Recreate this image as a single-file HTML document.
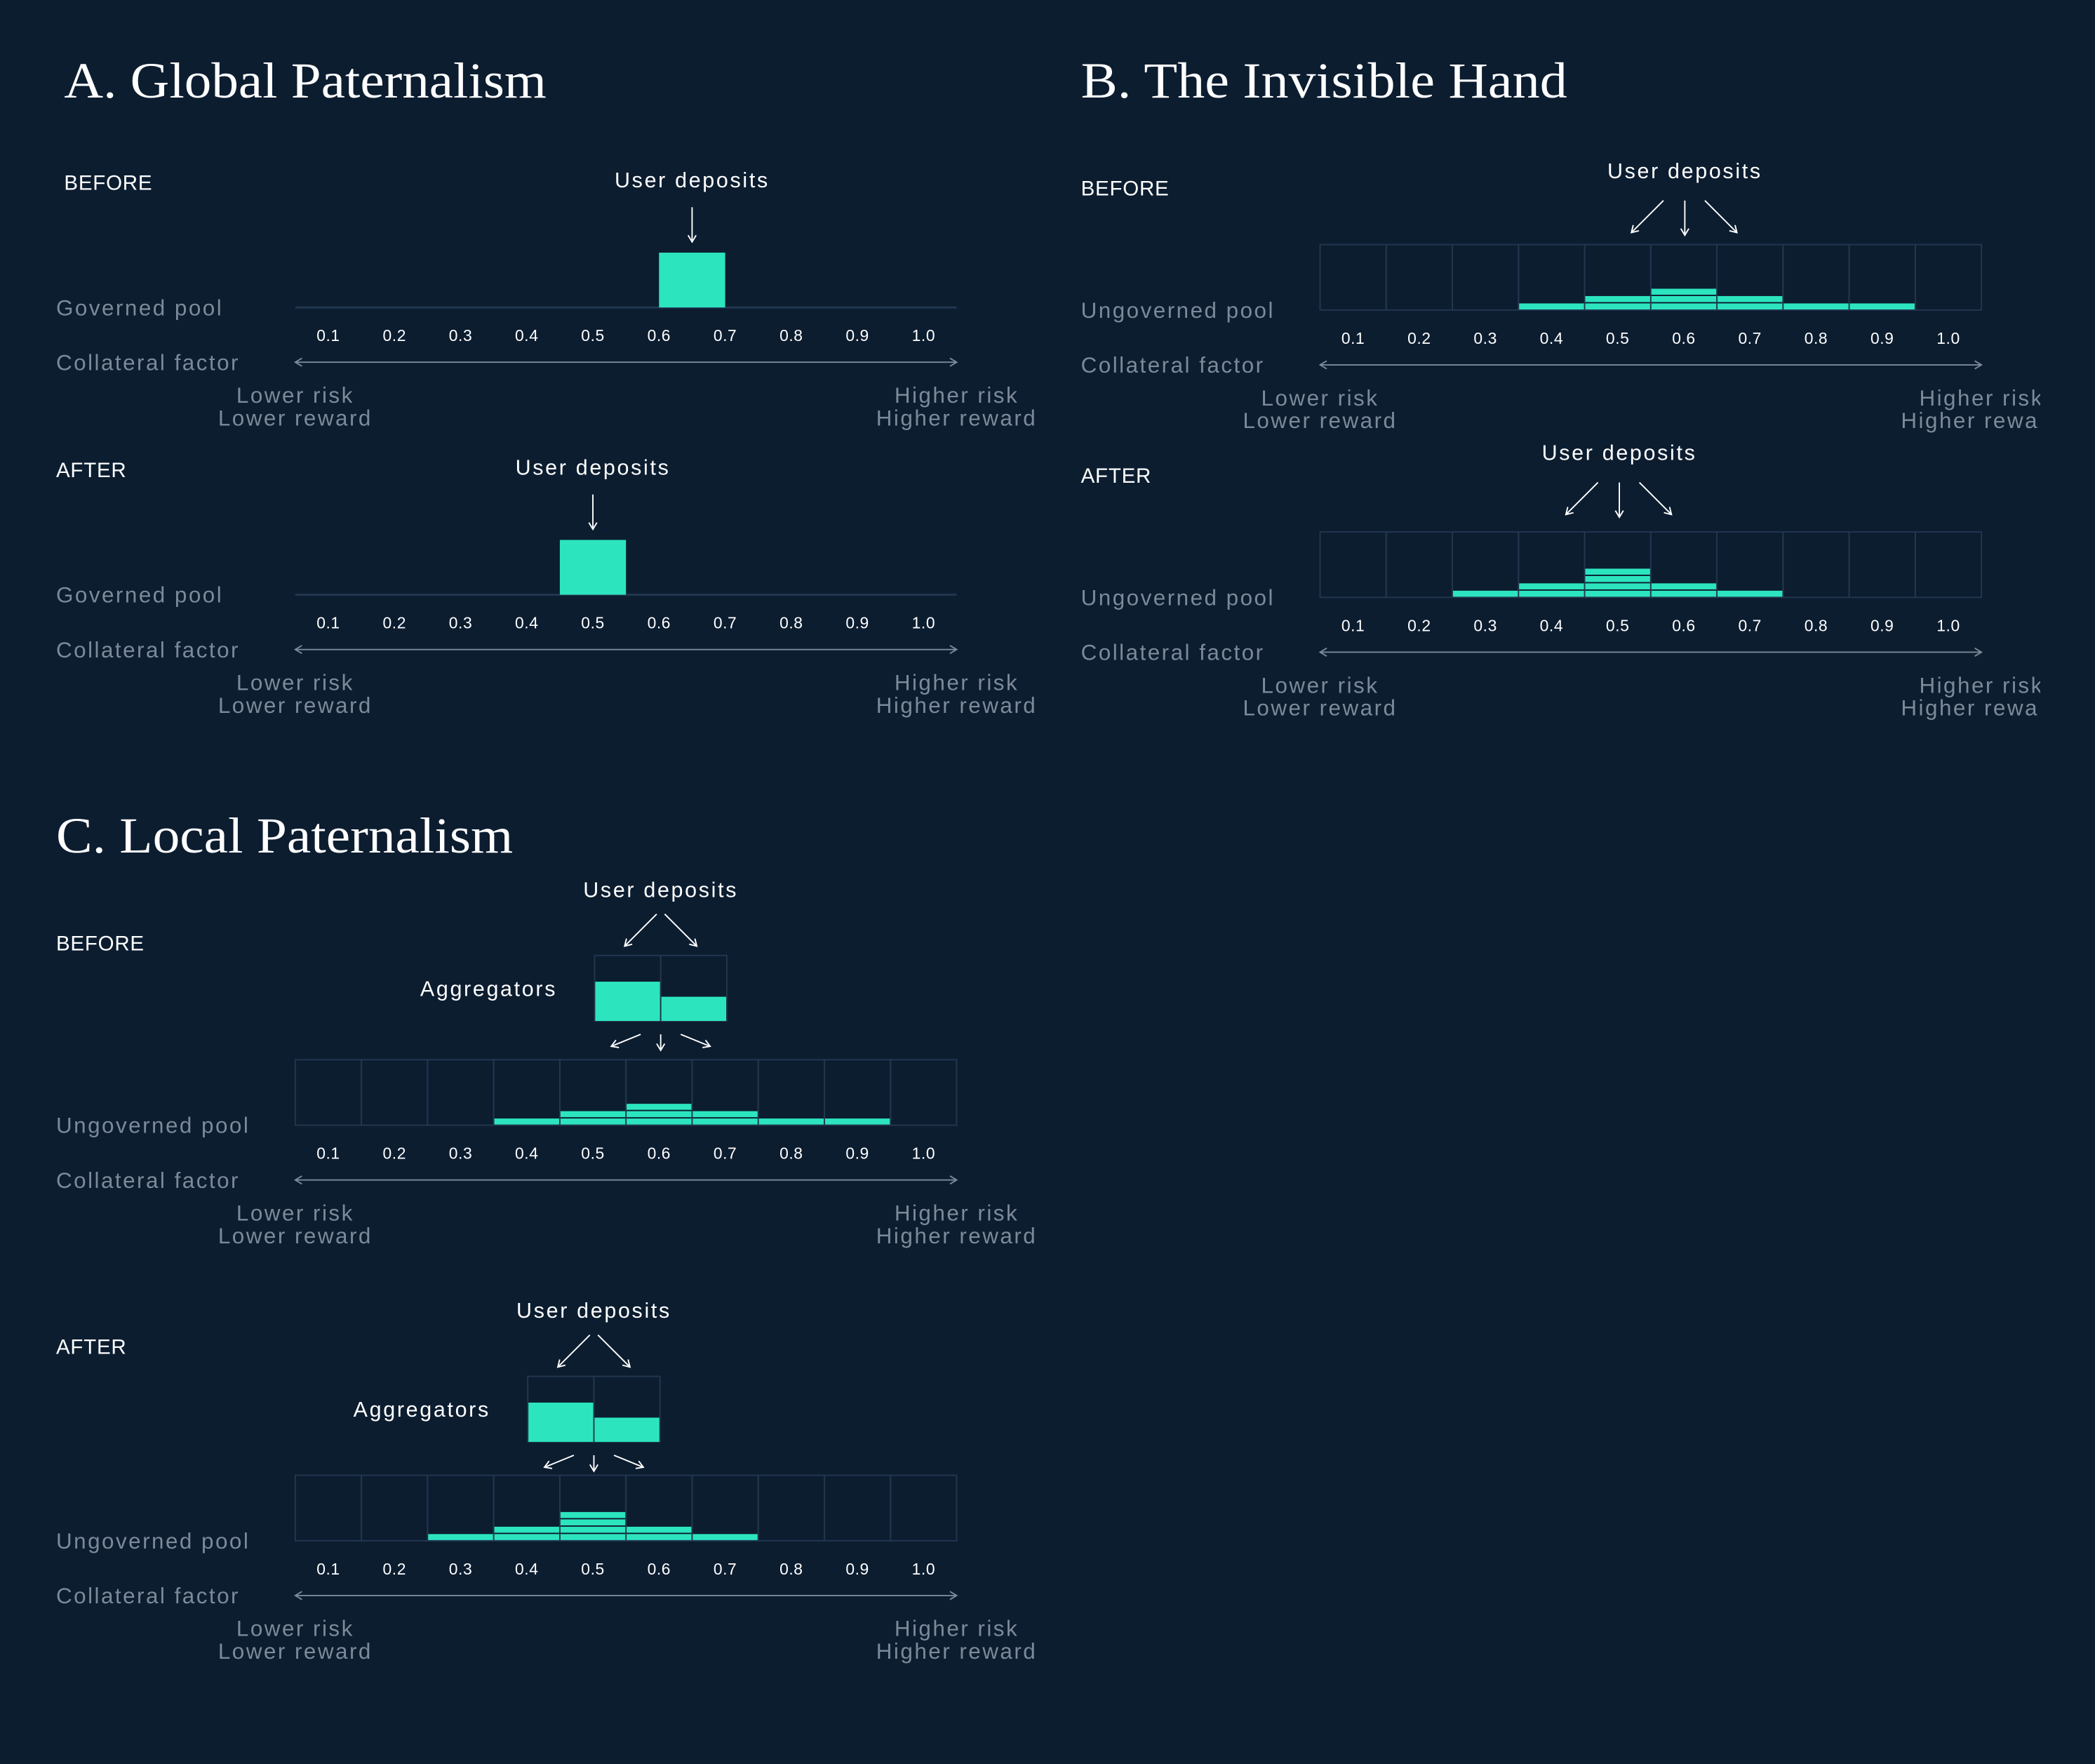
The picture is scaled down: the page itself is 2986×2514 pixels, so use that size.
<!DOCTYPE html>
<html><head><meta charset="utf-8"><style>
html,body{margin:0;padding:0;background:#0c1d30;}
svg{display:block;}
.t{font-family:"Liberation Serif",serif;fill:#fff;font-size:38px;}
.w{font-family:"Liberation Sans",sans-serif;fill:#fff;font-size:16px;letter-spacing:1.4px;}
.s{font-family:"Liberation Sans",sans-serif;fill:#fff;font-size:15.5px;letter-spacing:0.4px;}
.g{font-family:"Liberation Sans",sans-serif;fill:#7c8a99;font-size:16.5px;letter-spacing:1.3px;}
.k{font-family:"Liberation Sans",sans-serif;fill:#fff;font-size:12px;letter-spacing:0.3px;}
</style></head><body>
<svg id="c" width="2986" height="2514" viewBox="0 0 1568 1320">
<defs><clipPath id="clipB"><rect x="0" y="0" width="1527" height="1320"/></clipPath>
<marker id="ah" markerWidth="8" markerHeight="8" refX="6" refY="4" orient="auto" markerUnits="userSpaceOnUse"><path d="M1,1 L6,4 L1,7" fill="none" stroke="#fff" stroke-width="1"/></marker>
<marker id="ahg" markerWidth="8" markerHeight="8" refX="6" refY="4" orient="auto-start-reverse" markerUnits="userSpaceOnUse"><path d="M1,1 L6,4 L1,7" fill="none" stroke="#7c8a99" stroke-width="1"/></marker>
</defs>
<text class="t" x="48" y="73" textLength="361" lengthAdjust="spacingAndGlyphs">A. Global Paternalism</text>
<text class="t" x="809" y="73" textLength="364" lengthAdjust="spacingAndGlyphs">B. The Invisible Hand</text>
<text class="t" x="42" y="638" textLength="342" lengthAdjust="spacingAndGlyphs">C. Local Paternalism</text>
<g id="layer"></g>
</svg>
<script>
// Tick labels
const ticks = ['0.1','0.2','0.3','0.4','0.5','0.6','0.7','0.8','0.9','1.0'];
// Panel A: governed-pool bar position (bucket index, may be fractional)
const aBeforeBucket = [5.5];
const aAfterBucket = [4];
// Panel B: deposit block counts per collateral bucket
const bBefore = [0,0,0,1,2,3,2,1,1,0];
const bAfter  = [0,0,1,2,4,2,1,0,0,0];
// Panel C: ungoverned pool counts per bucket
const cBefore = [0,0,0,1,2,3,2,1,1,0];
const cAfter  = [0,0,1,2,4,2,1,0,0,0];
// Panel C: aggregator fill fractions
const cAggBefore = [0.6,0.37];
const cAggAfter  = [0.6,0.37];

const NS='http://www.w3.org/2000/svg';
const layer=document.getElementById('layer');
function el(tag,attrs,parent){const e=document.createElementNS(NS,tag);for(const k in attrs)e.setAttribute(k,attrs[k]);(parent||layer).appendChild(e);return e;}
function txt(cls,x,y,s,anchor,parent){const e=el('text',{class:cls,x:x,y:y,'text-anchor':anchor||'start','dominant-baseline':'middle'},parent);e.textContent=s;return e;}
const CW=49.5, CH=49, UNIT=5.5;
function xs(i,x0){return x0+i*CW;}

function axisBlock(g,x0,base,labelY,poolName){
  ticks.forEach((t,i)=>{const e=txt('k',xs(i,x0)+CW/2,base+22,t,'middle',g);
  
  });
  const p=txt('g',labelY,base+1.5,poolName,'start',g);
  
  
  const cf=txt('g',labelY,base+42.5,'Collateral factor','start',g);
  
  
  const ar=el('line',{x1:x0,y1:base+41,x2:x0+10*CW,y2:base+41,stroke:'#7c8a99','stroke-width':1,'marker-end':'url(#ahg)','marker-start':'url(#ahg)'},g);
  
  
  const l1=txt('g',x0,base+67,'Lower risk','middle',g);
  const l2=txt('g',x0,base+84,'Lower reward','middle',g);
  const h1=txt('g',x0+10*CW,base+67,'Higher risk','middle',g);
  const h2=txt('g',x0+10*CW,base+84,'Higher reward','middle',g);
}
function arrow(g,x1,y1,x2,y2){const a=el('line',{x1:x1,y1:y1,x2:x2,y2:y2,stroke:'#fff','stroke-width':1,'marker-end':'url(#ah)'},g);
  
  }

function panelA(bucket,x0,base,stageY,stage,labelX){
  const g=el('g',{});
  
  
  const s=txt('s',labelX,stageY,stage,'start',g);
  const bl=el('line',{x1:x0,y1:base,x2:x0+10*CW,y2:base,stroke:'#22374f','stroke-width':1.5},g);
  
  bucket.forEach(b=>{const r=el('rect',{x:xs(b,x0),y:base-41,width:CW,height:41,fill:'#2ce5bf'},g);
    
    
    const cx=xs(b,x0)+CW/2;
    const u=txt('w',cx,base-94,'User deposits','middle',g);
    arrow(g,cx,base-75,cx,base-49);});
  axisBlock(g,x0,base,42,'Governed pool');
}
function grid(g,counts,x0,top){
  const base=top+CH;
  for(let i=0;i<10;i++){const c=el('rect',{x:xs(i,x0),y:top,width:CW,height:CH,fill:'none',stroke:'#22374f','stroke-width':1},g);
    
    }
  counts.forEach((n,i)=>{for(let k=0;k<n;k++){const r=el('rect',{x:xs(i,x0)+0.5,y:base-(k+1)*UNIT+0.5,width:CW-1,height:UNIT-1,fill:'#2ce5bf'},g);
    
    }});
  return base;
}
function panelB(counts,top,stageY,stage,udX,udY){
  const g=el('g',{'clip-path':'url(#clipB)'});
  
  
  const x0=988;
  const s=txt('s',809,stageY+1,stage,'start',g);
  const u=txt('w',udX,udY+1,'User deposits','middle',g);
  arrow(g,udX-16,udY+22,udX-40,udY+46);arrow(g,udX,udY+22,udX,udY+48);arrow(g,udX+15,udY+22,udX+39,udY+46);
  const base=grid(g,counts,x0,top);
  axisBlock(g,x0,base,809,'Ungoverned pool');
}
function panelC(counts,agg,top,stageY,stage,aggX,aggTop){
  const g=el('g',{});
  
  
  const x0=221;const cx=aggX+CW;
  const s=txt('s',42,stageY+1,stage,'start',g);
  const u=txt('w',cx,aggTop-48,'User deposits','middle',g);
  arrow(g,cx-3,aggTop-31,cx-27,aggTop-7);arrow(g,cx+3,aggTop-31,cx+27,aggTop-7);
  const a=txt('w',aggX-28,aggTop+26,'Aggregators','end',g);
  agg.forEach((f,i)=>{
    const c=el('rect',{x:aggX+i*CW,y:aggTop,width:CW,height:CH,fill:'none',stroke:'#22374f','stroke-width':1},g);
    
    const h=CH*f;
    const r=el('rect',{x:aggX+i*CW+0.5,y:aggTop+CH-h,width:CW-1,height:h,fill:'#2ce5bf'},g);
    });
  const ay=aggTop+CH+10;
  arrow(g,cx-15,ay,cx-37,ay+9);arrow(g,cx,ay,cx,ay+12);arrow(g,cx+15,ay,cx+37,ay+9);
  const base=grid(g,counts,x0,top);
  axisBlock(g,x0,base,42,'Ungoverned pool');
}
panelA(aBeforeBucket,221,230,138,'BEFORE',48);
panelA(aAfterBucket,221,445,353,'AFTER',42);
panelB(bBefore,183,141,'BEFORE',1261,128);
panelB(bAfter,398,356,'AFTER',1212,339);
panelC(cBefore,cAggBefore,793,706,'BEFORE',445,715);
panelC(cAfter,cAggAfter,1104,1008,'AFTER',395,1030);
</script>
</body></html>
